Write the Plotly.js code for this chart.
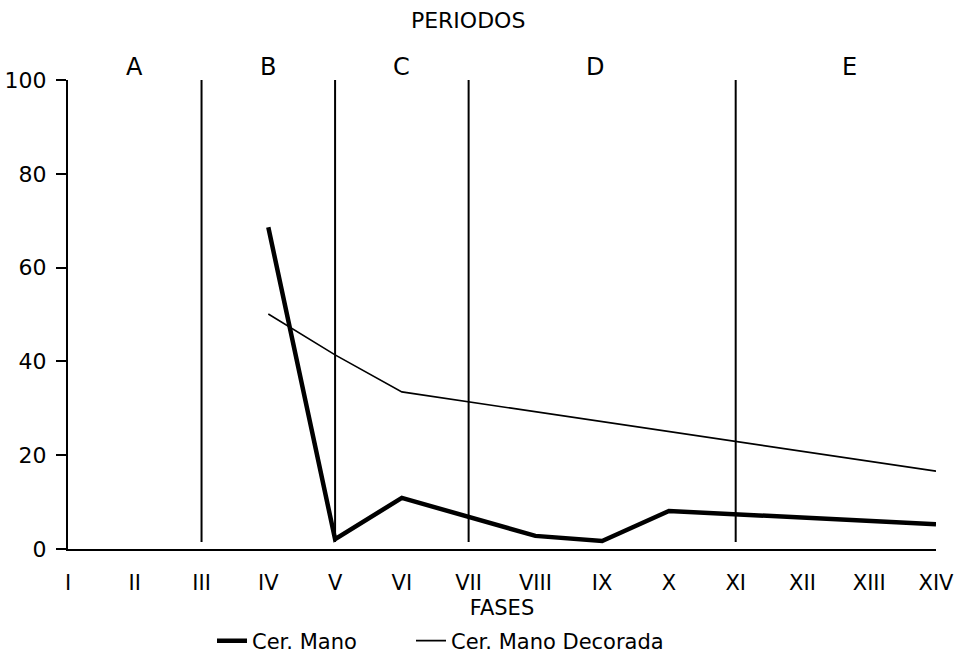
<!DOCTYPE html>
<html>
<head>
<meta charset="utf-8">
<script src="https://cdn.plot.ly/plotly-3.0.1.min.js"></script>
<style>html,body{margin:0;padding:0;background:#fff;}#chart{width:969px;height:665px;}</style>
</head>
<body>
<div id="chart"></div>
<script>
const fases = ["I","II","III","IV","V","VI","VII","VIII","IX","X","XI","XII","XIII","XIV"];
const cerMano = [null,null,null,68.6,2.1,10.9,null,2.8,1.7,8.1,null,null,null,5.3];
const cerManoDecorada = [null,null,null,50.1,41.4,33.5,null,null,null,null,null,null,null,16.6];
const periodBounds = ["III","V","VII","XI"];
const periodLabels = ["A","B","C","D","E"];
const periodLabelPos = [1,3,5,7.9,11.7];

const FONT = "DejaVu Sans, Arial, sans-serif";

const traces = [
  {x: fases, y: cerMano, name: "Cer. Mano", mode: "lines", connectgaps: true,
   line: {color: "#000", width: 4.5}, cliponaxis: false, legend: "legend"},
  {x: fases, y: cerManoDecorada, name: "Cer. Mano Decorada", mode: "lines", connectgaps: true,
   line: {color: "#000", width: 1.6}, cliponaxis: false, legend: "legend2"}
];

const shapes = periodBounds.map(p => ({
  type: "line", xref: "x", yref: "y", x0: p, x1: p, y0: 1.5, y1: 100.6,
  line: {color: "#000", width: 2}
}));

const annotations = periodLabels.map((t, i) => ({
  x: periodLabelPos[i], xref: "x", y: (549 - 67) / 469, yref: "paper", text: t, showarrow: false,
  font: {family: FONT, size: 24, color: "#000"}, yanchor: "middle", xanchor: "center"
}));

const legendFont = {family: FONT, size: 21, color: "#000"};

const layout = {
  width: 969, height: 665,
  margin: {l: 68, r: 33, t: 80, b: 116},
  paper_bgcolor: "#fff", plot_bgcolor: "#fff",
  font: {family: FONT, size: 21, color: "#000"},
  title: {text: "PERIODOS", x: 0.461, xref: "paper", xanchor: "center",
          y: 1 - 20/665, yref: "container", yanchor: "middle",
          font: {family: FONT, size: 22, color: "#000"}},
  xaxis: {type: "category", categoryorder: "array", categoryarray: fases,
          range: [0, 13], showgrid: false, zeroline: false, showline: true,
          linecolor: "#000", linewidth: 2, ticks: "", ticklabelstandoff: 14,
          tickfont: {family: FONT, size: 21, color: "#000"},
          title: {text: "FASES", standoff: 12, font: {family: FONT, size: 21, color: "#000"}}},
  yaxis: {range: [0, 100], tickvals: [0,20,40,60,80,100], showgrid: false, zeroline: false,
          showline: true, linecolor: "#000", linewidth: 2, ticks: "outside",
          ticklen: 10, tickwidth: 2, tickcolor: "#000", ticklabelstandoff: 5,
          tickfont: {family: FONT, size: 22, color: "#000"}},
  showlegend: true,
  legend: {orientation: "h", x: 212 / 969, xref: "container", xanchor: "left",
           y: 1 - 641/665, yref: "container", yanchor: "middle",
           font: legendFont, bgcolor: "rgba(0,0,0,0)"},
  legend2: {orientation: "h", x: 411 / 969, xref: "container", xanchor: "left",
           y: 1 - 641/665, yref: "container", yanchor: "middle",
           font: legendFont, bgcolor: "rgba(0,0,0,0)"},
  shapes: shapes,
  annotations: annotations
};

Plotly.newPlot("chart", traces, layout, {displayModeBar: false, staticPlot: true});
</script>
</body>
</html>
